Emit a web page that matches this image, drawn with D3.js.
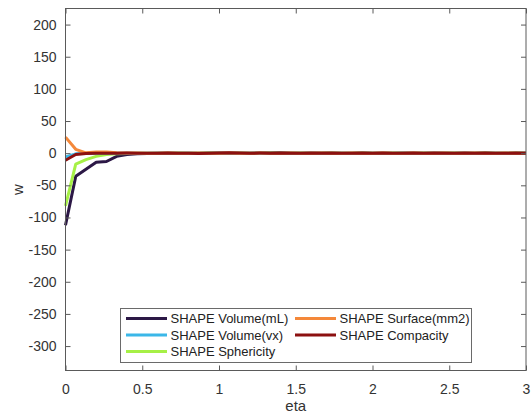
<!DOCTYPE html>
<html>
<head>
<meta charset="utf-8">
<script src="https://cdn.jsdelivr.net/npm/d3@7"></script>
<style>
  html, body { margin: 0; padding: 0; background: #fff; }
  svg { display: block; font-family: "Liberation Sans", Arial, sans-serif; }
</style>
</head>
<body>
<svg id="chart" width="532" height="419"></svg>
<script>
// eta grid: 0 .. 3 in steps of 1/15
const eta = d3.range(46).map(i => +(i / 15).toFixed(4));

function pad(head, tail) {
  const out = head.slice();
  while (out.length < 46) out.push(tail[out.length % tail.length]);
  return out;
}

const volumeML   = pad([-112, -36, -25, -14, -13, -5, -2, -1, -0.6, -0.3, -0.2, -0.1, 0, 0, 0.2, 0.3, 0, -0.2, 0, 0.3, 0.5, 0.6, 0.4, 0], [0, 0.2, 0, -0.2]);
const surfaceMM2 = pad([25, 6, 0.5, 2, 2, 0.5, 0.2, 0.1, 0, 0, 0.1, 0], [0, 0.1, 0]);
const volumeVX   = pad([-6, -1, -0.5, -0.3, -0.1, 0], [0, -0.1, 0]);
const compacity  = pad([-11, -2, -0.5, -0.2, 0, 0, 0.1, 0, 0, 0, 0.2, 0, -0.2, -0.4, 0, 0.3, 0.6, 0.3, 0], [0, 0.2, 0, -0.2, 0.1]);
const sphericity = pad([-82, -17, -10, -5, -2, -1, -0.5, -0.2, 0], [0, 0, 0.1]);

const seriesNames  = ["SHAPE Volume(mL)", "SHAPE Surface(mm2)", "SHAPE Volume(vx)", "SHAPE Compacity", "SHAPE Sphericity"];
const seriesValues = [volumeML, surfaceMM2, volumeVX, compacity, sphericity];
const seriesColors = ["#2c1846", "#f4883a", "#3bb7e8", "#8c1010", "#a6f046"];
// painting order (last on top)
const drawOrder = [0, 4, 2, 1, 3];

const xTicks = [0, 0.5, 1, 1.5, 2, 2.5, 3];
const yTicks = [-300, -250, -200, -150, -100, -50, 0, 50, 100, 150, 200];

const svg = d3.select("#chart");
const L = 65.5, R = 526, T = 8.5, B = 370.5;

const x = d3.scaleLinear().domain([0, 3]).range([L, R]);
const y = d3.scaleLinear().domain([-338, 225]).range([B, T]);

const axisColor = "#5a5a5a";
const textColor = "#333";

// plot lines
const line = d3.line().x((d, i) => x(eta[i])).y(d => y(d));
const g = svg.append("g");
drawOrder.forEach(k => {
  g.append("path")
    .datum(seriesValues[k])
    .attr("d", line)
    .attr("fill", "none")
    .attr("stroke", seriesColors[k])
    .attr("stroke-width", 3)
    .attr("stroke-linejoin", "round");
});

// axes (ticks inside, box on)
function styleAxis(sel) {
  sel.select(".domain").remove();
  sel.selectAll("line").attr("stroke", axisColor);
  sel.selectAll("text").attr("fill", textColor).attr("font-size", 14)
     .attr("font-family", "Liberation Sans, Arial, sans-serif");
}
const fmt = d => String(d);
svg.append("g").attr("transform", `translate(0,${B})`)
  .call(d3.axisBottom(x).tickValues(xTicks).tickFormat(fmt).tickSizeInner(-5).tickSizeOuter(0).tickPadding(14))
  .call(styleAxis);
svg.append("g").attr("transform", `translate(0,${T})`)
  .call(d3.axisTop(x).tickValues(xTicks).tickFormat("").tickSizeInner(-5).tickSizeOuter(0))
  .call(styleAxis);
svg.append("g").attr("transform", `translate(${L},0)`)
  .call(d3.axisLeft(y).tickValues(yTicks).tickFormat(fmt).tickSizeInner(-5).tickSizeOuter(0).tickPadding(9))
  .call(styleAxis);
svg.append("g").attr("transform", `translate(${R},0)`)
  .call(d3.axisRight(y).tickValues(yTicks).tickFormat("").tickSizeInner(-5).tickSizeOuter(0))
  .call(styleAxis);

svg.append("rect")
  .attr("x", L).attr("y", T).attr("width", R - L).attr("height", B - T)
  .attr("fill", "none").attr("stroke", axisColor).attr("stroke-width", 1);

// axis labels
svg.append("text").attr("x", (L + R) / 2).attr("y", 411)
  .attr("text-anchor", "middle").attr("font-size", 15).attr("fill", textColor).text("eta");
svg.append("text").attr("transform", `translate(23,${(T + B) / 2}) rotate(-90)`)
  .attr("text-anchor", "middle").attr("font-size", 15).attr("fill", textColor).text("w");

// legend: two columns, filled row by row
const leg = svg.append("g");
leg.append("rect").attr("x", 120.5).attr("y", 308.5).attr("width", 351).attr("height", 54)
  .attr("fill", "#fff").attr("stroke", "#6a6a6a").attr("stroke-width", 1);
const colX = [126, 295];
const rowY = [318.5, 335, 351.5];
seriesNames.forEach((name, k) => {
  const cx = colX[k % 2], cy = rowY[Math.floor(k / 2)];
  leg.append("line").attr("x1", cx).attr("x2", cx + 41).attr("y1", cy).attr("y2", cy)
    .attr("stroke", seriesColors[k]).attr("stroke-width", 3);
  leg.append("text").attr("x", cx + 44.5).attr("y", cy + 4.6)
    .attr("font-size", 13).attr("fill", "#222").text(name);
});
</script>
</body>
</html>
